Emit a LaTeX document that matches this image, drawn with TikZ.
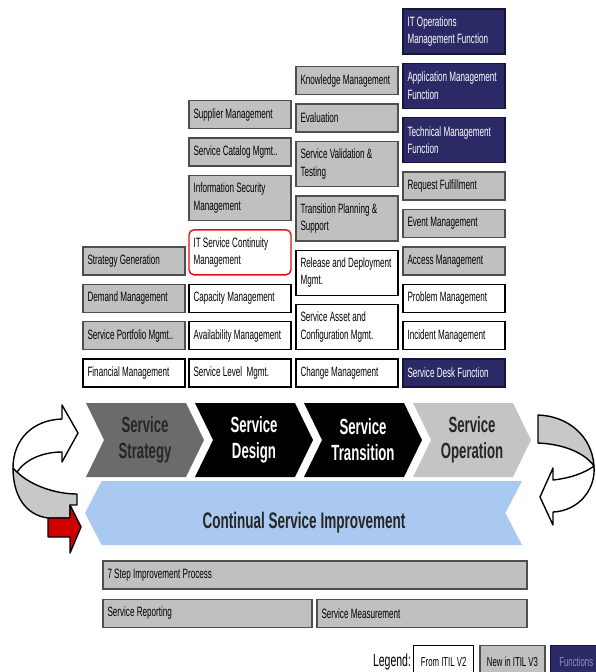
\documentclass[tikz,border=0pt]{standalone}
\usepackage{fontspec}
\setmainfont{Liberation Sans}
\newfontfamily\narrowsf[FakeStretch=0.6]{Liberation Sans}
\usepackage{tikz}
\usetikzlibrary{positioning,shapes.symbols}
\hyphenpenalty=10000
\exhyphenpenalty=10000
\definecolor{grayfill}{HTML}{C0C0C0}
\definecolor{grayline}{HTML}{4E4E4E}
\definecolor{navy}{HTML}{2C2A66}
\definecolor{navyline}{HTML}{15143A}
\definecolor{stratgray}{HTML}{6B6B6B}
\definecolor{opgray}{HTML}{C4C4C4}
\definecolor{csiblue}{HTML}{A9C9F0}
\definecolor{itscmred}{HTML}{E01010}
\definecolor{ribbongray}{HTML}{C8C8C8}
\definecolor{ribbonred}{HTML}{D00000}
\definecolor{funcink}{HTML}{8E8DC4}
\definecolor{darkink}{HTML}{262626}
\tikzset{
  proc/.style    ={draw,line width=1.4pt,inner xsep=4.5pt,inner ysep=2pt,
                   text width=93pt,align=flush left,minimum height=28pt,
                   font=\narrowsf\fontsize{13.5}{17.5}\selectfont},
  v2box/.style   ={proc,draw=black,fill=white},
  v3box/.style   ={proc,draw=grayline,fill=grayfill},
  funcbox/.style ={proc,draw=navyline,fill=navy,text=white},
  tallbox/.style ={minimum height=45pt},
  stage/.style   ={signal,signal from=west,signal to=east,signal pointer angle=128,
                   minimum width=118pt,minimum height=74pt,inner sep=0pt,align=center,
                   font=\narrowsf\bfseries\fontsize{22}{26}\selectfont},
  legendbox/.style={draw,line width=1.3pt,minimum height=32pt,inner sep=0pt,
                   font=\narrowsf\fontsize{13}{15}\selectfont},
  ribbon/.style  ={draw=black,line width=1.4pt,line join=round}
}
\begin{document}
\begin{tikzpicture}[x=1pt,y=-1pt,node distance=8pt]
  \useasboundingbox (0,0) rectangle (595,672);
  \fill[white] (0,0) rectangle (595,672);
  % strategy column
  \node[v2box] (finmgmt) at (134,373) {Financial Management};
  \node[v3box,above=of finmgmt] (portfolio) {Service Portfolio Mgmt..};
  \node[v3box,above=of portfolio] (demand) {Demand Management};
  \node[v3box,above=of demand] (stratgen) {Strategy Generation};
  % design column
  \node[v2box] (slm) at (240,373) {Service Level\ \ Mgmt.};
  \node[v2box,above=of slm] (avail) {Availability Management};
  \node[v2box,above=of avail] (capacity) {Capacity Management};
  \node[v2box,tallbox,above=of capacity,draw=itscmred,rounded corners=5pt] (itscm) {IT Service Continuity\\Management};
  \node[v3box,tallbox,above=of itscm] (infosec) {Information Security\\Management};
  \node[v3box,above=of infosec] (catalog) {Service Catalog Mgmt..};
  \node[v3box,above=of catalog] (supplier) {Supplier Management};
  % transition column
  \node[v2box] (change) at (347,373) {Change Management};
  \node[v2box,tallbox,above=of change] (sacm) {Service Asset and\\Configuration Mgmt.};
  \node[v2box,tallbox,above=of sacm] (release) {Release and Deployment\\Mgmt.};
  \node[v3box,tallbox,above=of release] (transplan) {Transition Planning \&\\Support};
  \node[v3box,tallbox,above=of transplan] (validation) {Service Validation \&\\Testing};
  \node[v3box,above=of validation] (evaluation) {Evaluation};
  \node[v3box,above=of evaluation] (knowledge) {Knowledge Management};
  % operation column
  \node[funcbox] (servicedesk) at (454,373) {Service Desk Function};
  \node[v2box,above=of servicedesk] (incident) {Incident Management};
  \node[v2box,above=of incident] (problem) {Problem Management};
  \node[v3box,above=of problem] (access) {Access Management};
  \node[v3box,above=of access] (event) {Event Management};
  \node[v3box,above=of event] (request) {Request Fulfillment};
  \node[funcbox,tallbox,above=of request] (techmgmt) {Technical Management\\Function};
  \node[funcbox,tallbox,above=of techmgmt] (appmgmt) {Application Management\\Function};
  \node[funcbox,tallbox,above=of appmgmt] (itops) {IT Operations\\Management Function};
  % lifecycle stages
  \node[stage,fill=stratgray,text=darkink] (strategy) at (145,440) {Service\\Strategy};
  \node[stage,fill=black,text=white] (design) at (254,440) {Service\\Design};
  \node[stage,fill=black,text=white] (transition) at (363,440) {Service\\Transition};
  \node[stage,fill=opgray,text=darkink] (operation) at (472,440) {Service\\Operation};
  \node[signal,signal to=west,signal from=east,signal pointer angle=125,fill=csiblue,
        minimum width=437pt,minimum height=64pt] (csi) at (303.5,513) {};
  \node[font=\narrowsf\bfseries\fontsize{22.5}{26}\selectfont,text=darkink] (csilabel) at (304,523) {Continual Service Improvement};
  % improvement boxes
  \node[v3box,text width=415pt] (sevenstep) at (315,575) {7 Step Improvement Process};
  \node[v3box,text width=200pt,below=9pt of sevenstep.south west,anchor=north west] (reporting) {Service Reporting};
  \node[v3box,text width=201pt,below=9pt of sevenstep.south east,anchor=north east] (measurement) {Service Measurement};
  % cycle arrows
  \filldraw[ribbon,fill=ribbongray] (17,472) .. controls (30,485) and (55,494) .. (77,494)
    -- (77,505) -- (70,505) -- (70,518) -- (48,518) .. controls (25,515) and (13,495) .. (13,468) -- cycle;
  \filldraw[ribbon,fill=white] (78,433) -- (62,405) -- (62,419) .. controls (32,420) and (13,440) .. (13,468)
    -- (17,472) .. controls (25,460) and (42,452) .. (62,452) -- (62,462) -- cycle;
  \filldraw[ribbon,fill=ribbonred] (48,518) -- (70,518) -- (70,505) -- (81,527) -- (70,553) -- (70,537) -- (48,537) -- cycle;
  \filldraw[ribbon,fill=ribbongray] (538,415) .. controls (568,416) and (592,436) .. (594,466)
    .. controls (584,452) and (562,444) .. (538,443) -- cycle;
  \filldraw[ribbon,fill=white] (540,497) -- (553,468) -- (553,480) .. controls (572,478) and (586,472) .. (594,466)
    .. controls (596,490) and (578,511) .. (553,512) -- (553,525) -- cycle;
  % legend
  \node[font=\narrowsf\fontsize{17.5}{19}\selectfont] (legendlabel) at (392,662) {Legend:};
  \node[legendbox,draw=black,fill=white,minimum width=60pt,anchor=north west] (legv2) at (413,645) {From ITIL V2};
  \node[legendbox,draw=grayline,fill=grayfill,minimum width=65pt,right=5pt of legv2] (legv3) {New in ITIL V3};
  \node[legendbox,draw=navyline,fill=navy,text=funcink,minimum width=52pt,right=4pt of legv3] (legfunc) {Functions};
\end{tikzpicture}
\end{document}
